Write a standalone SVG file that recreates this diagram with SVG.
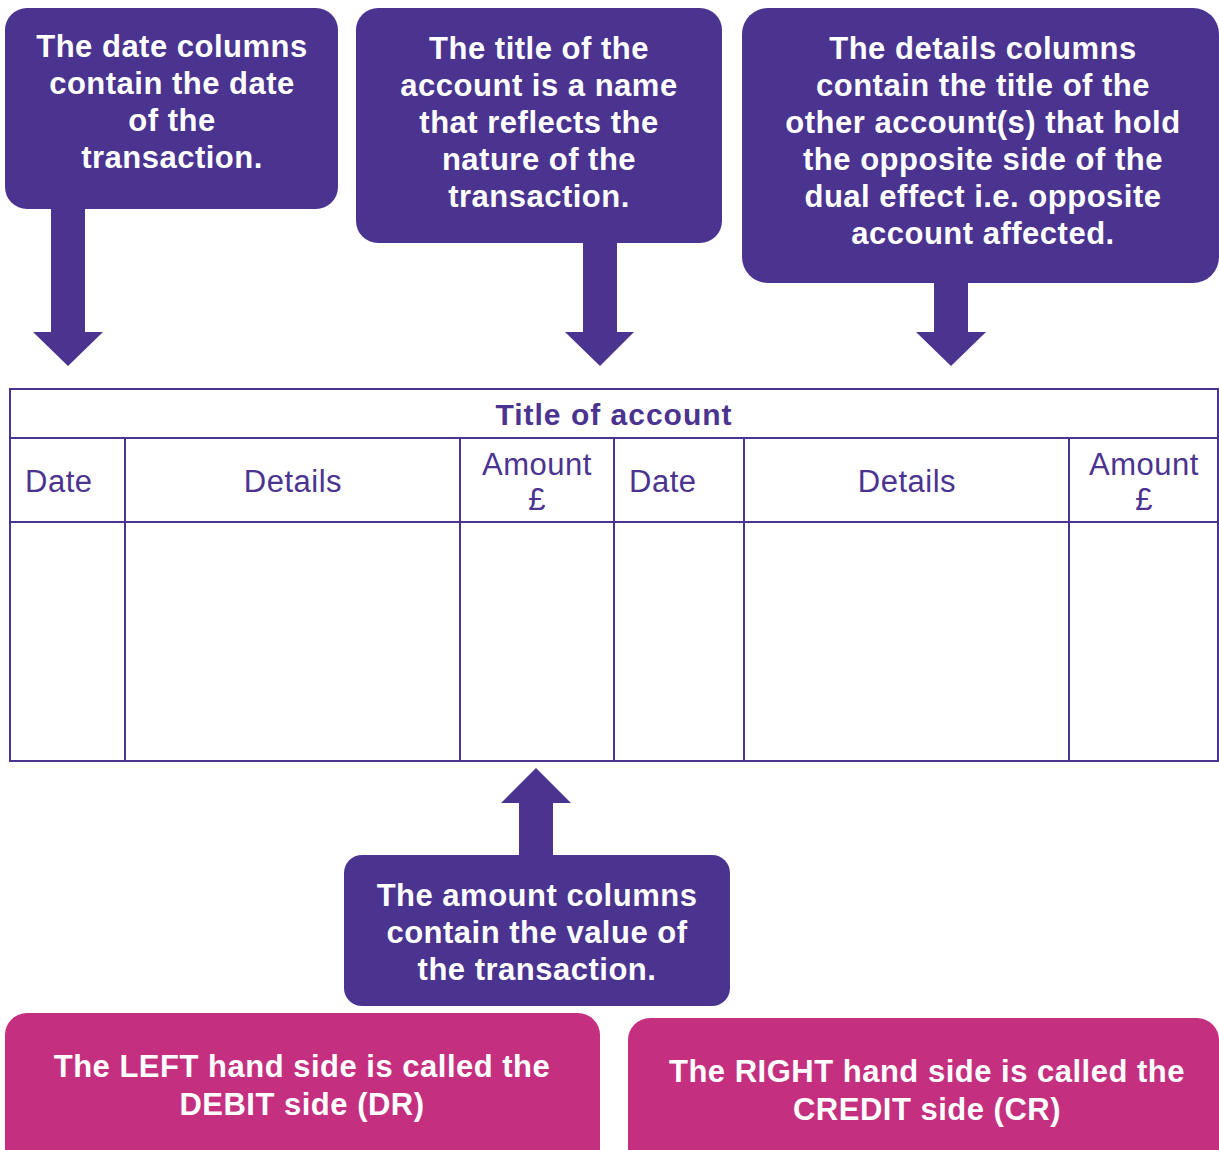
<svg xmlns="http://www.w3.org/2000/svg" width="1219" height="1150" viewBox="0 0 1219 1150">
  <style>
    .callout { fill: #4b3390; }
    .side { fill: #c4307f; }
    .note { font-family: "Liberation Sans", Arial, sans-serif; font-weight: bold; font-size: 31px; letter-spacing: 0.5px; fill: #ffffff; text-anchor: middle; }
    .grid { fill: none; stroke: #4b3390; stroke-width: 2; }
    .head { font-family: "Liberation Sans", Arial, sans-serif; font-size: 31px; letter-spacing: 0.5px; fill: #4b3390; }
    .title { font-family: "Liberation Sans", Arial, sans-serif; font-weight: bold; font-size: 30px; letter-spacing: 1px; fill: #4b3390; text-anchor: middle; }
  </style>

  <rect width="1219" height="1150" fill="#ffffff"/>

  <!-- Callout arrows -->
  <g id="connectors" class="callout">
    <polygon points="51,205 85,205 85,332 103,332 68,366 33,332 51,332"/>
    <polygon points="583,239 617,239 617,332 634,332 600,366 565,332 583,332"/>
    <polygon points="934,279 968,279 968,332 986,332 951,366 916,332 934,332"/>
    <polygon points="519,859 553,859 553,803 571,803 536,768 501,803 519,803"/>
  </g>

  <!-- Date columns callout -->
  <g id="note-date">
    <rect class="callout" x="5" y="8" width="333" height="201" rx="22"/>
    <text class="note" x="172" y="57">The date columns</text>
    <text class="note" x="172" y="94">contain the date</text>
    <text class="note" x="172" y="131">of the</text>
    <text class="note" x="172" y="168">transaction.</text>
  </g>

  <!-- Title callout -->
  <g id="note-title">
    <rect class="callout" x="356" y="8" width="366" height="235" rx="22"/>
    <text class="note" x="539" y="59">The title of the</text>
    <text class="note" x="539" y="96">account is a name</text>
    <text class="note" x="539" y="133">that reflects the</text>
    <text class="note" x="539" y="170">nature of the</text>
    <text class="note" x="539" y="207">transaction.</text>
  </g>

  <!-- Details callout -->
  <g id="note-details">
    <rect class="callout" x="742" y="8" width="477" height="275" rx="26"/>
    <text class="note" x="983" y="59">The details columns</text>
    <text class="note" x="983" y="96">contain the title of the</text>
    <text class="note" x="983" y="133">other account(s) that hold</text>
    <text class="note" x="983" y="170">the opposite side of the</text>
    <text class="note" x="983" y="207">dual effect i.e. opposite</text>
    <text class="note" x="983" y="244">account affected.</text>
  </g>

  <!-- T-account table -->
  <g id="account-table">
    <rect class="grid" x="10" y="389" width="1208" height="372"/>
    <line class="grid" x1="10" y1="438" x2="1218" y2="438"/>
    <line class="grid" x1="10" y1="522" x2="1218" y2="522"/>
    <line class="grid" x1="125" y1="438" x2="125" y2="761"/>
    <line class="grid" x1="460" y1="438" x2="460" y2="761"/>
    <line class="grid" x1="614" y1="438" x2="614" y2="761"/>
    <line class="grid" x1="744" y1="438" x2="744" y2="761"/>
    <line class="grid" x1="1069" y1="438" x2="1069" y2="761"/>
    <text class="title" x="614" y="425">Title of account</text>
    <text class="head" x="25" y="492">Date</text>
    <text class="head" x="293" y="492" text-anchor="middle">Details</text>
    <text class="head" x="537" y="475" text-anchor="middle">Amount</text>
    <text class="head" x="537" y="510" text-anchor="middle">£</text>
    <text class="head" x="629" y="492">Date</text>
    <text class="head" x="907" y="492" text-anchor="middle">Details</text>
    <text class="head" x="1144" y="475" text-anchor="middle">Amount</text>
    <text class="head" x="1144" y="510" text-anchor="middle">£</text>
  </g>

  <!-- Amount callout -->
  <g id="note-amount">
    <rect class="callout" x="344" y="855" width="386" height="151" rx="18"/>
    <text class="note" x="537" y="906">The amount columns</text>
    <text class="note" x="537" y="943">contain the value of</text>
    <text class="note" x="537" y="980">the transaction.</text>
  </g>

  <!-- Debit side -->
  <g id="debit-side">
    <rect class="side" x="5" y="1013" width="595" height="170" rx="22"/>
    <text class="note" x="302" y="1077">The LEFT hand side is called the</text>
    <text class="note" x="302" y="1115">DEBIT side (DR)</text>
  </g>

  <!-- Credit side -->
  <g id="credit-side">
    <rect class="side" x="628" y="1018" width="591" height="170" rx="22"/>
    <text class="note" x="927" y="1082">The RIGHT hand side is called the</text>
    <text class="note" x="927" y="1120">CREDIT side (CR)</text>
  </g>
</svg>
